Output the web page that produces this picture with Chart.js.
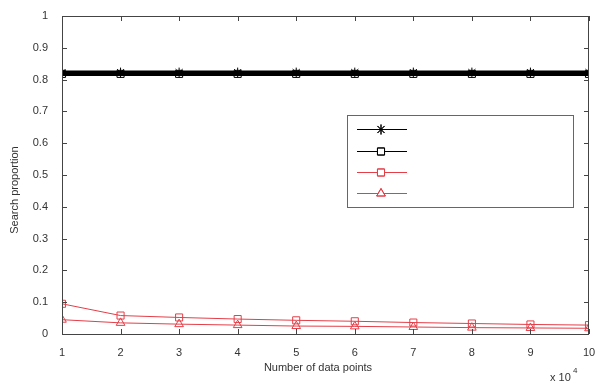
<!DOCTYPE html>
<html>
<head>
<meta charset="utf-8">
<script src="https://cdn.jsdelivr.net/npm/chart.js@4.4.1/dist/chart.umd.min.js"></script>
<style>
  html,body{margin:0;padding:0;background:#fff;}
  #wrap{width:595px;height:382px;position:relative;}
</style>
</head>
<body>
<div id="wrap"><canvas id="chart" width="595" height="382"></canvas></div>
<script>
/* data */
const xPoints   = [1,2,3,4,5,6,7,8,9,10];          // number of data points (x 10^4)
const blackStar = [0.822,0.822,0.822,0.822,0.822,0.822,0.822,0.822,0.822,0.822];
const blackSq   = [0.818,0.818,0.818,0.818,0.818,0.818,0.818,0.818,0.818,0.818];
const redSq     = [0.095,0.058,0.052,0.047,0.043,0.040,0.036,0.033,0.030,0.028];
const redTri    = [0.045,0.035,0.031,0.028,0.025,0.024,0.022,0.020,0.019,0.018];
const yTicks    = [0,0.1,0.2,0.3,0.4,0.5,0.6,0.7,0.8,0.9,1];
const xTicks    = [1,2,3,4,5,6,7,8,9,10];

const RED='rgb(228,62,72)', FONT='"Liberation Sans", Arial, sans-serif';
const pts=a=>a.map((v,i)=>({x:xPoints[i],y:v}));
const ds=(data,color,style,w,r)=>({data:pts(data),borderColor:color,backgroundColor:'transparent',
  borderWidth:w,pointStyle:style,pointRadius:r,pointBorderWidth:1,pointBorderColor:color,
  pointBackgroundColor:'transparent',tension:0});

/* inward ticks, box frame, titles, legend box */
const decor={id:'decor',
  afterDraw(c){
    const g=c.ctx,a=c.chartArea,xs=c.scales.x,ys=c.scales.y;
    g.save();
    g.strokeStyle='#444';g.lineWidth=1;
    g.strokeRect(a.left+.5,a.top+.5,a.right-a.left-1,a.bottom-a.top);
    g.beginPath();
    for(const t of xTicks){const p=Math.round(xs.getPixelForValue(t))+.5;
      g.moveTo(p,a.bottom);g.lineTo(p,a.bottom-5);g.moveTo(p,a.top);g.lineTo(p,a.top+5);}
    for(const t of yTicks){const p=Math.round(ys.getPixelForValue(t))+.5;
      g.moveTo(a.left,p);g.lineTo(a.left+5,p);g.moveTo(a.right,p);g.lineTo(a.right-5,p);}
    g.stroke();
    // titles
    g.fillStyle='#333';g.font='11px '+FONT;g.textAlign='center';g.textBaseline='middle';
    g.fillText('Number of data points',318,368);
    g.save();g.translate(15,190);g.rotate(-Math.PI/2);g.fillText('Search proportion',0,0);g.restore();
    g.textAlign='left';g.fillText('x 10',550,378);
    g.font='8px '+FONT;g.fillText('4',573,371);
    // legend box (no labels in the original)
    g.fillStyle='#fff';g.fillRect(347,115,227,93);
    g.strokeStyle='#666';g.strokeRect(347.5,115.5,226,92);
    const ys2=[129,151,172,193];
    c.data.datasets.forEach((d,i)=>{
      const y=ys2[i]+.5;
      g.strokeStyle=d.borderColor;g.lineWidth=1;
      g.beginPath();g.moveTo(357,y);g.lineTo(407,y);g.stroke();
      Chart.helpers.drawPoint(g,{pointStyle:d.pointStyle,radius:d.pointRadius,borderWidth:1,rotation:0},381,y);
      g.stroke();
    });
    g.restore();
  }};

new Chart(document.getElementById('chart'),{
  type:'line',
  data:{datasets:[
    ds(blackStar,'#000','star',4,5),
    ds(blackSq,'#000','rect',4,5),
    ds(redSq,RED,'rect',1,5),
    ds(redTri,RED,'triangle',1,5)
  ]},
  options:{responsive:false,animation:false,devicePixelRatio:1,
    layout:{padding:{top:16,right:5,left:0,bottom:0}},
    plugins:{legend:{display:false},tooltip:{enabled:false}},
    scales:{
      x:{type:'linear',min:1,max:10,
        afterFit:s=>{s.height=48;s.paddingLeft=0;s.paddingRight=0;},
        afterBuildTicks:s=>{s.ticks=xTicks.map(v=>({value:v}));},
        grid:{display:false},border:{display:false},
        ticks:{color:'#333',font:{size:11,family:FONT},padding:4,maxRotation:0}},
      y:{min:0,max:1,
        afterFit:s=>{s.width=62;s.paddingTop=0;s.paddingBottom=0;},
        afterBuildTicks:s=>{s.ticks=yTicks.map(v=>({value:v}));},
        grid:{display:false},border:{display:false},
        ticks:{color:'#333',font:{size:11,family:FONT},padding:6,callback:v=>String(v)}}
    }},
  plugins:[decor]
});
</script>
</body>
</html>
